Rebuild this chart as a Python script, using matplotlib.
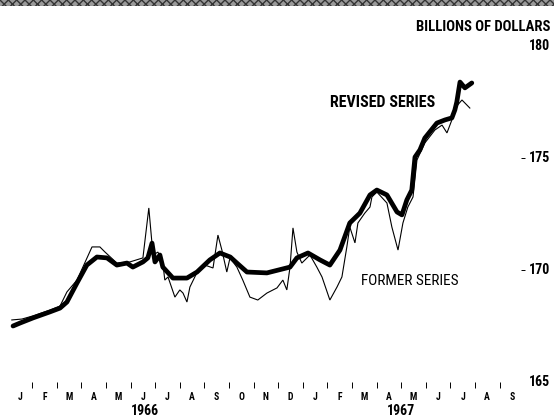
import matplotlib
matplotlib.use("Agg")
import matplotlib.pyplot as plt
from matplotlib import font_manager as fm
from matplotlib.patches import Rectangle
from matplotlib.transforms import blended_transform_factory

# ---------------- data (months since Jan 1 1966, billions of dollars) ----------------
revised_month = [0.22, 0.50, 1.03, 1.72, 2.13, 2.41, 2.82, 3.22, 3.63, 4.04, 4.44, 4.85,
                 5.09, 5.50, 5.70, 5.87, 5.99, 6.19, 6.31, 6.72, 7.29, 7.70, 8.22, 8.63,
                 9.05, 9.32, 9.73, 10.54, 11.48, 11.76, 12.21, 12.70, 13.10, 13.51, 13.91,
                 14.32, 14.73, 15.01, 15.42, 15.83, 16.03, 16.23, 16.43, 16.56, 16.76,
                 16.96, 17.45, 17.78, 18.06, 18.18, 18.26, 18.39, 18.59, 18.87]
revised_value = [167.50, 167.63, 167.86, 168.13, 168.30, 168.57, 169.42, 170.22, 170.58,
                 170.54, 170.22, 170.31, 170.13, 170.36, 170.54, 171.20, 170.36, 170.67,
                 170.13, 169.64, 169.64, 169.91, 170.45, 170.76, 170.58, 170.31, 169.91,
                 169.87, 170.13, 170.54, 170.76, 170.45, 170.22, 170.89, 172.10, 172.54,
                 173.35, 173.57, 173.35, 172.59, 172.46, 173.13, 173.57, 175.04, 175.36,
                 175.89, 176.56, 176.70, 176.79, 177.14, 177.50, 178.39, 178.13, 178.35]

former_month = [0.17, 0.58, 1.03, 1.72, 2.13, 2.41, 2.82, 3.43, 3.75, 3.96, 4.44, 4.97,
                5.50, 5.74, 5.91, 6.11, 6.31, 6.39, 6.52, 6.80, 7.00, 7.13, 7.29, 7.41,
                7.69, 8.02, 8.35, 8.55, 8.71, 8.91, 9.04, 9.32, 9.56, 9.85, 10.17, 10.54,
                10.95, 11.19, 11.35, 11.48, 11.60, 11.76, 11.96, 12.29, 12.57, 12.78,
                13.10, 13.39, 13.59, 13.79, 13.91, 14.12, 14.24, 14.52, 14.73, 14.81,
                15.01, 15.42, 15.62, 15.87, 16.07, 16.27, 16.48, 16.64, 16.96, 17.37,
                17.66, 17.86, 18.06, 18.26, 18.47, 18.79]
former_value = [167.77, 167.81, 167.95, 168.21, 168.39, 169.02, 169.55, 171.03, 171.03,
                170.80, 170.31, 170.36, 170.54, 172.77, 170.67, 170.80, 170.31, 169.55,
                169.69, 168.79, 169.11, 168.97, 168.57, 169.24, 169.87, 170.22, 170.09,
                171.56, 170.89, 169.91, 170.54, 170.13, 169.55, 168.79, 168.66, 168.97,
                169.20, 169.55, 169.11, 170.13, 171.88, 170.80, 170.31, 170.67, 170.13,
                169.69, 168.66, 169.24, 169.69, 171.03, 171.92, 171.21, 172.10, 172.54,
                172.81, 173.26, 173.48, 172.99, 171.92, 170.89, 172.10, 172.81, 173.26,
                174.91, 175.67, 176.25, 176.47, 176.12, 176.70, 177.32, 177.59, 177.23]

month_letters = ["J", "F", "M", "A", "M", "J", "J", "A", "S", "O", "N", "D",
                 "J", "F", "M", "A", "M", "J", "J", "A", "S"]
years = ["1966", "1967"]
year_centers = [5.6, 16.0]
y_ticks = [165, 170, 175, 180]

# ---------------- fonts ----------------
def pick(cands):
    names = {f.name for f in fm.fontManager.ttflist}
    for c in cands:
        if c in names:
            return c
    return "DejaVu Sans"

cond = pick(["Liberation Sans Narrow", "Roboto Condensed", "DejaVu Sans"])
stretch = "condensed"
FONT = dict(family=[cond, "DejaVu Sans"], weight="bold", stretch=stretch)

# ---------------- figure ----------------
W, H = 554, 419
fig = plt.figure(figsize=(W / 100, H / 100), dpi=100)
ax = fig.add_axes([0.0, (H - 382) / H, 521 / W, 336 / H])
ax.set_xlim(-0.31, 20.87)
ax.set_ylim(165, 180)

ax.plot(former_month, former_value, color="black", lw=0.8, solid_joinstyle="miter", zorder=2)
ax.plot(revised_month, revised_value, color="black", lw=3.4, solid_capstyle="round",
        solid_joinstyle="round", zorder=3)

for s in ax.spines.values():
    s.set_visible(False)

# x axis: month boundaries as ticks, month letters centered
ax.set_xticks(range(1, 21))
ax.set_xticklabels([])
ax.tick_params(axis="x", which="major", direction="out", length=4, width=0.7, color="black")
ax.set_xticks([i + 0.5 for i in range(len(month_letters))], minor=True)
ax.set_xticklabels(month_letters, minor=True, fontsize=7, **FONT)
ax.tick_params(axis="x", which="minor", length=0, pad=7)

for yr, c in zip(years, year_centers):
    ax.text(c, -0.085, yr, transform=ax.get_xaxis_transform(), ha="center", va="center",
            fontsize=10, **FONT)

# y axis on the right: small dashes, labels right-aligned at the figure edge
ax.yaxis.tick_right()
ax.set_yticks(y_ticks)
ax.set_yticklabels([])
ax.tick_params(axis="y", direction="out", length=3, width=0.7)
for tk, v in zip(ax.yaxis.get_major_ticks(), y_ticks):
    if v in (165, 180):
        tk.tick2line.set_visible(False)
lab_tr = blended_transform_factory(fig.transFigure, ax.transData)
for v in y_ticks:
    ax.text(550 / W, v, str(v), transform=lab_tr, ha="right", va="center",
            fontsize=10, clip_on=False, **FONT)

fig.text(550 / W, 1 - 27 / H, "BILLIONS OF DOLLARS", ha="right", va="center",
         fontsize=10.5, **FONT)

ax.text(13.1, 177.5, "REVISED SERIES", ha="left", va="center", fontsize=11.5, **FONT)
ax.text(14.35, 169.5, "FORMER SERIES", ha="left", va="center", fontsize=11,
        family=[cond, "DejaVu Sans"], weight="normal", stretch=stretch)

# scanned dark strip along the top edge
fig.patches.append(Rectangle((0, 1 - 6 / H), 1, 6 / H, transform=fig.transFigure,
                             facecolor="#9a9a9a", edgecolor="#333333", hatch="xxxx",
                             lw=0, zorder=0))

fig.savefig("out.png", dpi=100)
